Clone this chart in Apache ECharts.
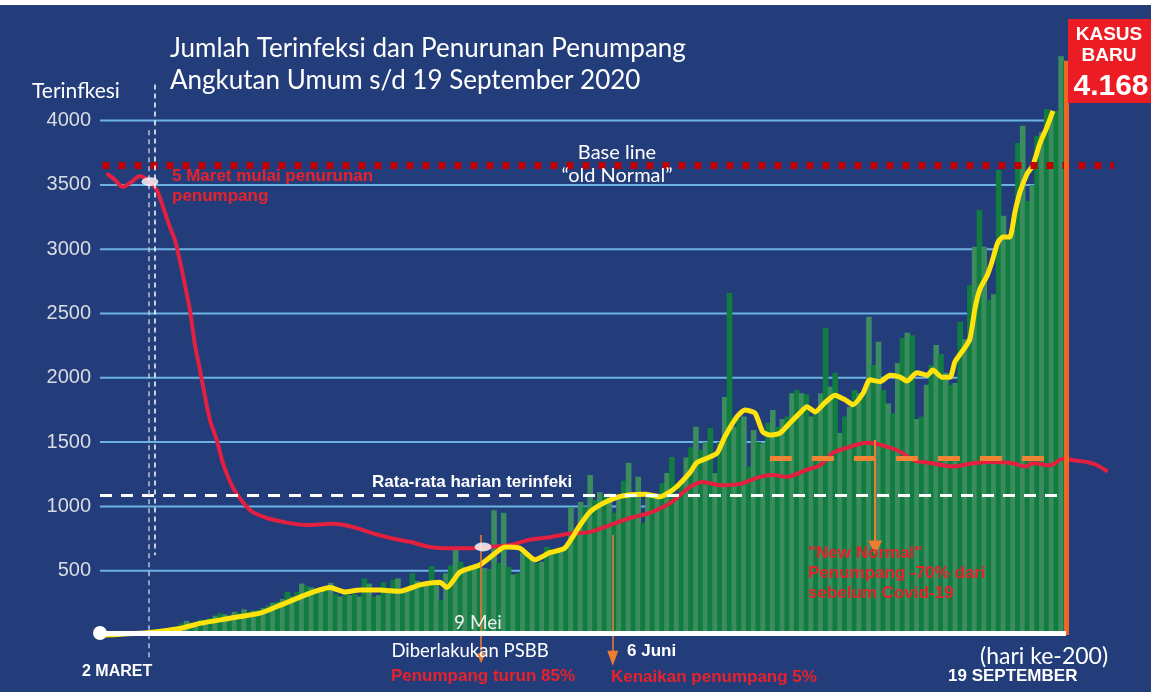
<!DOCTYPE html>
<html>
<head>
<meta charset="utf-8">
<title>Jumlah Terinfeksi dan Penurunan Penumpang</title>
<script src="https://cdn.jsdelivr.net/npm/echarts@6/dist/echarts.min.js"></script>
<style>
html, body { margin: 0; padding: 0; background: #fff; overflow: hidden; }
#chart { width: 1151px; height: 700px; }
</style>
</head>
<body>
<div id="chart"></div>
<script>
// kasus baru harian, hari ke-0 = 2 Maret ... hari ke-200 = 19 September
var kasusHarian = [
    0, 0, 0, 2, 0, 0, 2, 4, 6, 10, 20, 15, 12, 25, 30, 40,
    90, 110, 80, 100, 120, 110, 130, 150, 170, 160,
    150, 180, 170, 200, 180, 190, 195, 210, 230, 250,
    260, 280, 335, 300, 335, 400, 380, 370, 360, 370,
    350, 405, 320, 300, 330, 310, 320, 300, 440, 400,
    300, 310, 410, 330, 430, 440, 350, 360, 480, 420,
    400, 390, 535, 420, 270, 480, 540, 685, 570, 530,
    540, 530, 560, 520, 505, 970, 560, 950, 530, 470,
    480, 640, 620, 600, 560, 570, 685, 650, 645, 660,
    685, 995, 790, 1035, 1000, 1245, 1050, 1110, 1090, 1100,
    950, 1075, 1200, 1340, 1075, 1230, 870, 1075, 1080, 1100,
    1180, 1260, 1385, 1100, 1205, 1380, 1460, 1620, 1440, 1500,
    1610, 1260, 1500, 1850, 2660, 1620, 1680, 1700, 1310, 1595,
    1500, 1490, 1650, 1750, 1620, 1680, 1700, 1880, 1905, 1880,
    1870, 1700, 1750, 1880, 2390, 1930, 2040, 1570, 1700, 1775,
    1905, 1880, 1880, 2475, 2100, 2280, 1905, 1800, 1725, 2115,
    2310, 2350, 2330, 1680, 1700, 1945, 2100, 2255, 2185, 2040,
    1945, 1960, 2435, 2300, 2720, 3020, 3305, 3020, 2605, 2650,
    3615, 3260, 3080, 3150, 3825, 3960, 3375, 3500, 3880, 3910,
    4090, 4030, 4075, 4510, 4465
];

// garis kuning (jumlah terinfeksi)
var kuningHari = [0, 9.4, 15.6, 19.8, 26, 32.3, 36.4, 40.6, 44.7, 46.8,
    49.9, 53.1, 57.2, 61.4, 65.6, 69.7, 71.2, 73.9, 78, 80.7,
    83.2, 86.4, 89.5, 92.6, 95.7, 98.9, 100.9, 103, 106.1, 109.3,
    112.4, 115.5, 118.6, 121.7, 123.2, 125.3, 127.4, 129, 131.5, 133.2,
    135.3, 136.9, 138.4, 140.5, 142.6, 144.6, 146.1, 147.8, 149.8, 151.9,
    154, 155.7, 157.8, 159.2, 161.3, 163.4, 165.5, 166.9, 169, 171.1,
    172.3, 174.2, 175.9, 176.9, 178.6, 180, 181.1, 182.1, 183.6, 184.6,
    185.8, 186.9, 188.3, 189.4, 190.4, 191.9, 193.1, 194.6, 196, 197.3];
var kuningNilai = [0, 20, 50, 90, 130, 170, 230, 295, 350, 370,
    335, 350, 350, 340, 390, 410, 370, 490, 545, 620,
    685, 675, 585, 640, 675, 855, 955, 1010, 1065, 1090,
    1095, 1075, 1140, 1260, 1340, 1375, 1415, 1540, 1695, 1750,
    1725, 1580, 1555, 1570, 1650, 1725, 1775, 1735, 1805, 1865,
    1830, 1790, 1880, 1985, 1970, 2020, 2005, 1975, 2040, 2020,
    2060, 2005, 2005, 2125, 2215, 2300, 2545, 2690, 2795, 2900,
    3050, 3095, 3095, 3290, 3440, 3585, 3650, 3825, 3945, 4075];

// garis merah (penumpang angkutan umum)
var merahHari = [0.4, 2.1, 3.7, 5.6, 7.3, 9.4, 10.8, 12.1, 13.5, 14.6,
    15.6, 16.6, 17.7, 18.7, 19.8, 20.8, 21.9, 23.3, 24.6, 26.6,
    28.7, 30.8, 33.7, 37, 42, 47.5, 51.6, 55.8, 59.9, 63.5,
    67.6, 71.8, 76, 80.1, 84.3, 88.4, 92.6, 96.8, 100.9, 105.1,
    109.3, 113.4, 117.6, 121.7, 124.5, 128, 132.2, 136.3, 139, 141.9,
    146.1, 148.8, 151.5, 154.4, 158.6, 161.3, 165.5, 168.2, 172.3, 176.5,
    180.6, 184.8, 189, 191.5, 193.1, 196.7, 199.4, 202.3, 204.4, 206.5, 208.7];
var merahNilai = [3590, 3540, 3485, 3525, 3570, 3525, 3460, 3330, 3175, 3070,
    2915, 2735, 2530, 2270, 2060, 1865, 1670, 1515, 1335, 1150,
    1035, 955, 910, 880, 855, 865, 840, 790, 750, 725,
    685, 675, 675, 685, 700, 740, 760, 790, 800, 855,
    910, 950, 1025, 1150, 1190, 1165, 1175, 1230, 1245, 1230,
    1285, 1320, 1415, 1455, 1495, 1480, 1425, 1360, 1335, 1310,
    1335, 1345, 1335, 1310, 1335, 1320, 1370, 1355, 1345, 1320, 1270];

var garisY = [500, 1000, 1500, 2000, 2500, 3000, 3500, 4000];

var rataRata = 1089;      // rata-rata harian terinfeksi
var baseLine = 3655;      // "old Normal"
var newNormal = 1376;     // penumpang new normal
var titikPutih = [[9.4, 3525], [78.7, 685]];

var merahTeks = '#E8212B';
var oranye = '#EE7D31';

function pasang(hari, nilai) {
    var out = [];
    for (var i = 0; i < hari.length; i++) out.push([hari[i], nilai[i]]);
    return out;
}

var chart = echarts.init(document.getElementById('chart'));

// garis grid biru, berhenti di hari ke-200
var seriesGaris = garisY.map(function (v) {
    return {
        type: 'line', z: 1, silent: true, symbol: 'none',
        data: [[-1, v], [200, v]],
        lineStyle: { color: '#6CB3E3', width: 2 }
    };
});

function teks(t, x, y, font, fill, align) {
    return {
        type: 'text', x: x, y: y, z: 100,
        style: {
            text: t, font: font, fill: fill,
            align: align || 'left', textAlign: align || 'left',
            verticalAlign: 'middle', textVerticalAlign: 'middle'
        }
    };
}

var lato = '"Lato", "Noto Sans", sans-serif';
var arial = '"Liberation Sans", Arial, sans-serif';

var option = {
    animation: false,
    backgroundColor: '#233D7B',
    grid: { left: 100, right: 37, top: 56.3, bottom: 0.7 },
    xAxis: { type: 'value', min: -1, max: 210, show: false },
    yAxis: {
        type: 'value', min: -500, max: 4500, interval: 500,
        axisLine: { show: false }, axisTick: { show: false }, splitLine: { show: false },
        axisLabel: {
            margin: 9, color: '#DADCE2', fontSize: 20, fontFamily: arial,
            formatter: function (v) { return (v > 0 && v <= 4000) ? String(v) : ''; }
        }
    },
    series: seriesGaris.concat([
        {
            name: 'Kasus harian', type: 'bar', z: 2, barWidth: 5.6,
            data: kasusHarian.map(function (v, i) { return [i, v]; }),
            itemStyle: {
                color: function (p) { return p.dataIndex % 2 ? '#3B8C5F' : '#117C40'; }
            }
        },
        {
            name: 'Terinfeksi', type: 'line', z: 4, smooth: 0.2, symbol: 'none',
            data: pasang(kuningHari, kuningNilai),
            lineStyle: { color: '#FFE30A', width: 5 }
        },
        {
            name: 'Penumpang', type: 'line', z: 3, smooth: 0.3, symbol: 'none',
            data: pasang(merahHari, merahNilai),
            lineStyle: { color: '#E3203F', width: 4 },
            markLine: {
                silent: true, symbol: 'none', animation: false,
                label: { show: false },
                data: [
                    [{ coord: [-1, rataRata], lineStyle: { color: '#FFFFFF', width: 3, type: [12, 9] } },
                     { coord: [200, rataRata] }],
                    [{ coord: [-0.5, baseLine], lineStyle: { color: '#C00000', width: 7, type: [7, 9] } },
                     { coord: [210, baseLine] }],
                    [{ coord: [138.4, newNormal], lineStyle: { color: '#EE8434', width: 5, type: [22, 20] } },
                     { coord: [196.7, newNormal] }],
                    [{ coord: [160.3, 1516], lineStyle: { color: oranye, width: 2, type: 'solid' } },
                     { coord: [160.3, 680], symbol: 'triangle', symbolSize: [14, 14] }],
                    [{ coord: [78.3, 778], lineStyle: { color: oranye, width: 1.5, type: 'solid' } },
                     { coord: [78.3, -180], symbol: 'triangle', symbolSize: [9, 10] }],
                    [{ coord: [105.7, 778], lineStyle: { color: oranye, width: 1.5, type: 'solid' } },
                     { coord: [105.7, -180], symbol: 'triangle', symbolSize: [11, 15] }],
                    [{ coord: [10.4, 4280], lineStyle: { color: '#FFFFFF', width: 1.5, type: [5, 4] } },
                     { coord: [10.4, 620] }],
                    [{ coord: [9.2, 3925], lineStyle: { color: '#B9C4DA', width: 1.5, type: [5, 4] } },
                     { coord: [9.2, -200] }],
                    [{ coord: [200, 0], lineStyle: { color: '#F26522', width: 5, type: 'solid' } },
                     { coord: [200, 4465] }],
                    [{ coord: [-1, 15], symbol: 'circle', symbolSize: 14,
                       lineStyle: { color: '#FFFFFF', width: 5, type: 'solid' } },
                     { coord: [200, 15] }]
                ]
            }
        },
        {
            type: 'scatter', z: 10, silent: true,
            symbol: 'circle', symbolSize: [17, 9],
            itemStyle: { color: '#FFFFFF' },
            data: titikPutih
        }
    ]),
    graphic: [
        { type: 'rect', shape: { x: 0, y: 0, width: 1151, height: 5 }, style: { fill: '#FFFFFF' }, z: 100 },
        { type: 'rect', shape: { x: 1068, y: 19, width: 83, height: 84 }, style: { fill: '#EC1C24' }, z: 100 },
        teks('KASUS', 1109, 35, 'bold 19px ' + arial, '#FFFFFF', 'center'),
        teks('BARU', 1109, 56, 'bold 19px ' + arial, '#FFFFFF', 'center'),
        teks('4.168', 1111, 87, 'bold 30px ' + arial, '#FFFFFF', 'center'),
        teks('Jumlah Terinfeksi dan Penurunan Penumpang', 170, 49, '26px ' + lato, '#FFFFFF'),
        teks('Angkutan Umum s/d 19 September 2020', 170, 81, '26px ' + lato, '#FFFFFF'),
        teks('Terinfkesi', 32, 91, '21px ' + lato, '#FFFFFF'),
        teks('Base line', 617, 153, '20px ' + lato, '#FFFFFF', 'center'),
        teks('\u201Cold Normal\u201D', 617, 176, '20px ' + lato, '#FFFFFF', 'center'),
        teks('5 Maret mulai penurunan', 172, 176, 'bold 17px ' + arial, merahTeks),
        teks('penumpang', 172, 196, 'bold 17px ' + arial, merahTeks),
        teks('Rata-rata harian terinfeki', 372, 482, 'bold 17px ' + arial, '#FFFFFF'),
        teks('"New Normal"', 808, 553, 'bold 17px ' + arial, merahTeks),
        teks('Penumpang -70% dari', 808, 573, 'bold 17px ' + arial, merahTeks),
        teks('sebelum Covid-19', 808, 593, 'bold 17px ' + arial, merahTeks),
        teks('9 Mei', 478, 623, '19px ' + lato, '#EEEEEE', 'center'),
        teks('Diberlakukan PSBB', 470, 651, '18.5px ' + lato, '#FFFFFF', 'center'),
        teks('Penumpang turun 85%', 483, 676, 'bold 17px ' + arial, merahTeks, 'center'),
        teks('6 Juni', 627, 651, 'bold 17px ' + arial, '#FFFFFF'),
        teks('Kenaikan penumpang 5%', 611, 677, 'bold 17px ' + arial, merahTeks),
        teks('2 MARET', 82, 672, 'bold 16px ' + arial, '#FFFFFF'),
        teks('(hari ke-200)', 980, 657, '23px ' + lato, '#FFFFFF'),
        teks('19 SEPTEMBER', 948, 676, 'bold 17px ' + arial, '#FFFFFF')
    ]
};

chart.setOption(option);
</script>
</body>
</html>
